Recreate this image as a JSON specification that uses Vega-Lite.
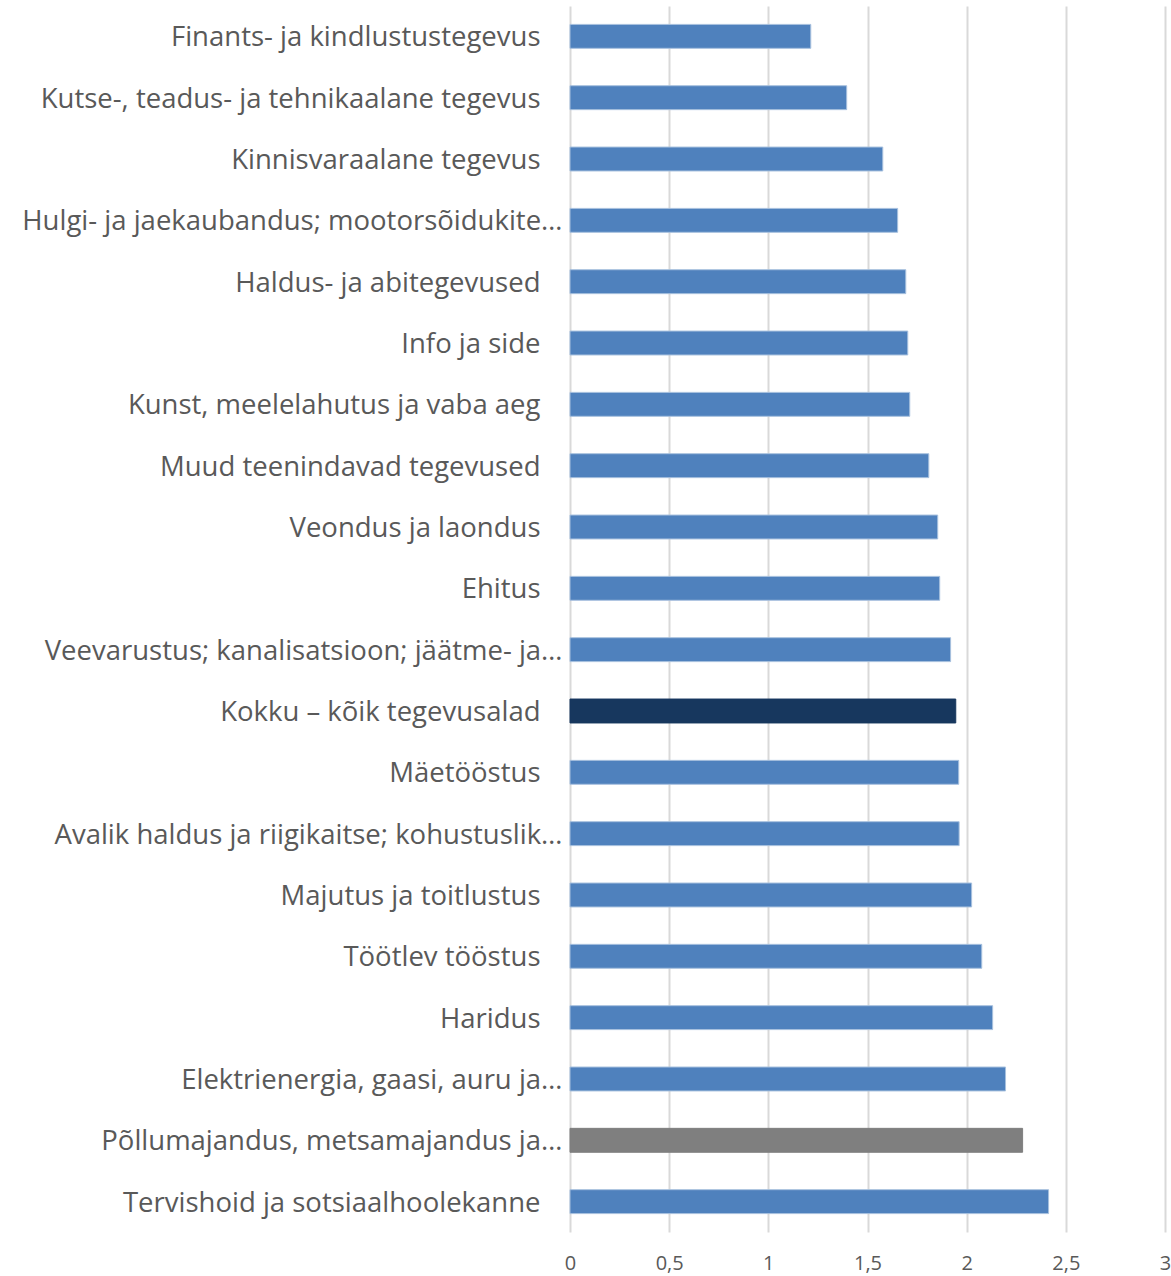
{
  "$schema": "https://vega.github.io/schema/vega-lite/v6.json",
  "autosize": "none",
  "width": 595,
  "height": 1226,
  "padding": {"left": 570, "top": 6, "right": 6, "bottom": 44},
  "background": "white",
  "config": {"view": {"stroke": null}},
  "data": {"values": [
    {"tegevusala": "Finants- ja kindlustustegevus", "vaartus": 1.214, "tyyp": "muu"},
    {"tegevusala": "Kutse-, teadus- ja tehnikaalane tegevus", "vaartus": 1.395, "tyyp": "muu"},
    {"tegevusala": "Kinnisvaraalane tegevus", "vaartus": 1.577, "tyyp": "muu"},
    {"tegevusala": "Hulgi- ja jaekaubandus; mootorsõidukite…", "vaartus": 1.652, "tyyp": "muu"},
    {"tegevusala": "Haldus- ja abitegevused", "vaartus": 1.693, "tyyp": "muu"},
    {"tegevusala": "Info ja side", "vaartus": 1.703, "tyyp": "muu"},
    {"tegevusala": "Kunst, meelelahutus ja vaba aeg", "vaartus": 1.713, "tyyp": "muu"},
    {"tegevusala": "Muud teenindavad tegevused", "vaartus": 1.809, "tyyp": "muu"},
    {"tegevusala": "Veondus ja laondus", "vaartus": 1.854, "tyyp": "muu"},
    {"tegevusala": "Ehitus", "vaartus": 1.864, "tyyp": "muu"},
    {"tegevusala": "Veevarustus; kanalisatsioon; jäätme- ja…", "vaartus": 1.919, "tyyp": "muu"},
    {"tegevusala": "Kokku – kõik tegevusalad", "vaartus": 1.945, "tyyp": "kokku"},
    {"tegevusala": "Mäetööstus", "vaartus": 1.96, "tyyp": "muu"},
    {"tegevusala": "Avalik haldus ja riigikaitse; kohustuslik…", "vaartus": 1.962, "tyyp": "muu"},
    {"tegevusala": "Majutus ja toitlustus", "vaartus": 2.025, "tyyp": "muu"},
    {"tegevusala": "Töötlev tööstus", "vaartus": 2.076, "tyyp": "muu"},
    {"tegevusala": "Haridus", "vaartus": 2.131, "tyyp": "muu"},
    {"tegevusala": "Elektrienergia, gaasi, auru ja…", "vaartus": 2.196, "tyyp": "muu"},
    {"tegevusala": "Põllumajandus, metsamajandus ja…", "vaartus": 2.282, "tyyp": "pollumajandus"},
    {"tegevusala": "Tervishoid ja sotsiaalhoolekanne", "vaartus": 2.413, "tyyp": "muu"}
  ]},
  "mark": {"type": "bar", "strokeWidth": 1},
  "encoding": {
    "y": {
      "field": "tegevusala", "type": "nominal", "sort": null,
      "scale": {"paddingInner": 0.61, "paddingOuter": 0.3},
      "axis": {
        "title": null, "domain": false, "ticks": false,
        "labelFont": "Open Sans", "labelFontSize": 27.5, "labelColor": "#595959",
        "labelLimit": 600, "labelOffset": 2,
        "labelPadding": {"expr": "indexof(datum.label, '…') >= 0 ? 8 : 30"}
      }
    },
    "x": {
      "field": "vaartus", "type": "quantitative",
      "scale": {"domain": [0, 3], "nice": false},
      "axis": {
        "title": null, "domain": false, "ticks": false,
        "values": [0, 0.5, 1, 1.5, 2, 2.5, 3],
        "labelExpr": "replace(format(datum.value, '~g'), '.', ',')",
        "grid": true, "gridColor": "#d9d9d9", "gridWidth": 2,
        "labelFont": "Open Sans", "labelFontSize": 20, "labelColor": "#595959",
        "labelPadding": 21, "labelFlush": false
      }
    },
    "color": {
      "field": "tyyp", "type": "nominal", "legend": null,
      "scale": {"domain": ["muu", "kokku", "pollumajandus"], "range": ["#4f81bd", "#17375e", "#7f7f7f"]}
    },
    "stroke": {
      "field": "tyyp", "type": "nominal", "legend": null,
      "scale": {"domain": ["muu", "kokku", "pollumajandus"], "range": ["#a7c0de", "#17375e", "#7f7f7f"]}
    }
  }
}
